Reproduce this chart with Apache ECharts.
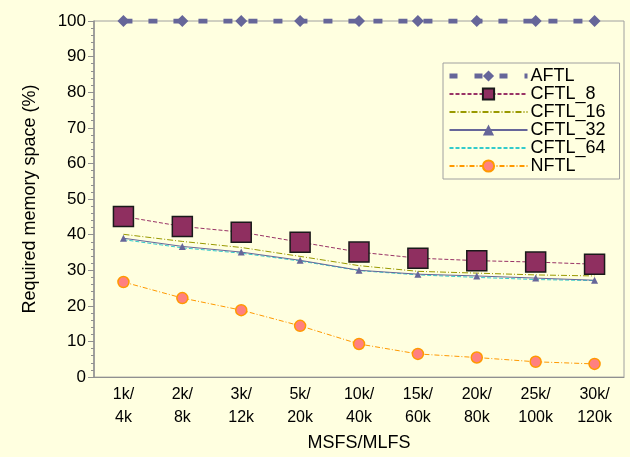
<!DOCTYPE html>
<html>
<head>
<meta charset="utf-8">
<script src="https://cdn.jsdelivr.net/npm/echarts@6/dist/echarts.min.js"></script>
<style>
html,body{margin:0;padding:0;background:#FFFFE0;}
#c{width:630px;height:457px;}
</style>
</head>
<body>
<div id="c"></div>
<script>
var categories = ['1k/\n4k','2k/\n8k','3k/\n12k','5k/\n20k','10k/\n40k','15k/\n60k','20k/\n80k','25k/\n100k','30k/\n120k'];
var AFTL    = [100,100,100,100,100,100,100,100,100];
var CFTL_8  = [45.1,42.3,40.7,37.9,35.1,33.4,32.7,32.3,31.7];
var CFTL_16 = [40.1,38.1,36.4,33.9,31.3,29.7,29.2,28.7,28.4];
var CFTL_32 = [39.0,36.7,35.1,32.8,30.0,28.9,28.4,27.8,27.2];
var CFTL_64 = [38.6,36.3,34.8,32.6,29.9,28.7,28.0,27.4,27.1];
var NFTL    = [26.7,22.2,18.8,14.4,9.3,6.5,5.5,4.3,3.7];
var yTicks  = [0,10,20,30,40,50,60,70,80,90,100];

var font = 'Liberation Sans, Arial, sans-serif';
var chart = echarts.init(document.getElementById('c'), null, {renderer:'canvas'});
chart.setOption({
  backgroundColor: '#FFFFE0',
  animation: false,
  grid: {left:94, right:6, top:21, bottom:79.5, show:true, borderColor:'#A0A0A0', borderWidth:1, backgroundColor:'transparent'},
  legend: {
    orient:'vertical', left:443, top:63,
    backgroundColor:'#FFFFE0', borderColor:'#A0A0A0', borderWidth:1,
    padding:[4,14,4,4], itemWidth:78, itemHeight:14, itemGap:0,
    textStyle:{fontFamily:font, fontSize:18, color:'#000', lineHeight:18, padding:[0,0,0,-2]},
    data:[
      {name:'AFTL', lineStyle:{width:5, type:[8,17]}},
      {name:'CFTL_8'},
      {name:'CFTL_16', itemStyle:{opacity:0}},
      {name:'CFTL_32'},
      {name:'CFTL_64', itemStyle:{opacity:0}},
      {name:'NFTL'}
    ]
  },
  xAxis: {
    type:'category', data:categories, boundaryGap:true,
    name:'MSFS/MLFS', nameLocation:'middle', nameGap:55,
    nameTextStyle:{fontFamily:font, fontSize:18, color:'#000'},
    axisLine:{lineStyle:{color:'#909090', width:1}},
    axisTick:{show:false},
    axisLabel:{fontFamily:font, fontSize:16, color:'#000', lineHeight:23, margin:6, interval:0},
    splitLine:{show:false}
  },
  yAxis: {
    type:'value', min:yTicks[0], max:yTicks[yTicks.length-1], interval:10,
    name:'Required memory space (%)', nameLocation:'middle', nameGap:55,
    nameTextStyle:{fontFamily:font, fontSize:18, color:'#000'},
    axisLine:{show:true, lineStyle:{color:'#909090', width:1.5}},
    axisTick:{show:true, length:6, lineStyle:{color:'#909090'}},
    minorTick:{show:true, splitNumber:5, length:3, lineStyle:{color:'#909090'}},
    axisLabel:{fontFamily:font, fontSize:17, color:'#000', margin:8},
    splitLine:{show:false}
  },
  series: [
    {name:'CFTL_16', type:'line', data:CFTL_16, symbol:'none',
     lineStyle:{color:'#999900', width:1, type:[6,2,1,2]}, itemStyle:{color:'#999900'}, z:3},
    {name:'CFTL_64', type:'line', data:CFTL_64, symbol:'none',
     lineStyle:{color:'#33CCCC', width:1, type:[4,2]}, itemStyle:{color:'#33CCCC'}, z:3},
    {name:'CFTL_32', type:'line', data:CFTL_32, symbol:'triangle', symbolSize:7,
     lineStyle:{color:'#666699', width:1}, itemStyle:{color:'#666699'}, z:4},
    {name:'NFTL', type:'line', data:NFTL, symbol:'circle', symbolSize:11,
     lineStyle:{color:'#FF9900', width:1, type:[5,2,1,2]},
     itemStyle:{color:'#FF8080', borderColor:'#FF9900', borderWidth:1.5}, z:4},
    {name:'CFTL_8', type:'line', data:CFTL_8, symbol:'rect', symbolSize:20,
     lineStyle:{color:'#993366', width:1, type:[4,2]},
     itemStyle:{color:'#8F2F60', borderColor:'#1A1A1A', borderWidth:1.5}, z:5},
    {name:'AFTL', type:'line', data:AFTL, symbol:'diamond', symbolSize:12,
     lineStyle:{color:'#666699', width:5, type:[9,16]},
     itemStyle:{color:'#666699'}, z:6}
  ]
});
</script>
</body>
</html>
